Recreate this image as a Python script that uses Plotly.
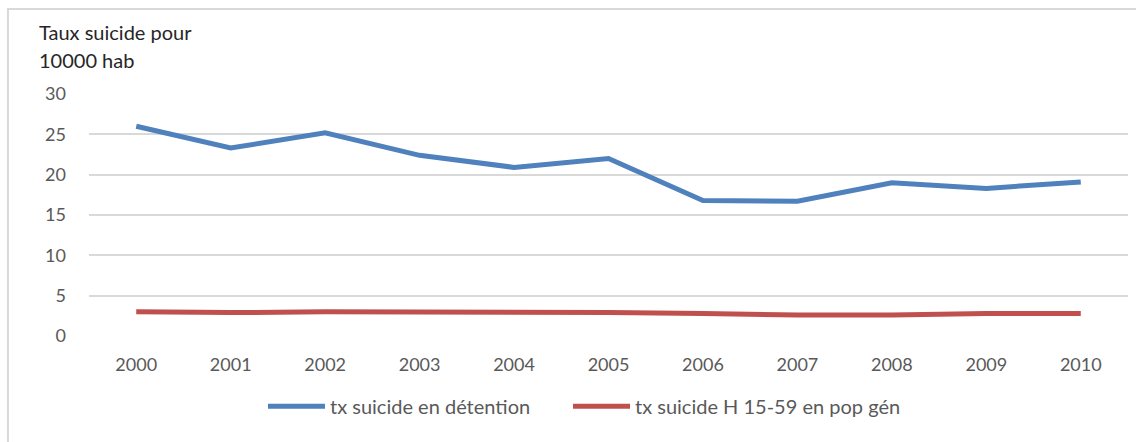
import plotly.graph_objects as go

years = ["2000", "2001", "2002", "2003", "2004", "2005", "2006", "2007", "2008", "2009", "2010"]
detention = [26.0, 23.3, 25.2, 22.4, 20.9, 22.0, 16.8, 16.7, 19.0, 18.3, 19.1]
pop_gen = [3.0, 2.9, 3.0, 3.0, 3.0, 2.9, 2.8, 2.6, 2.6, 2.8, 2.8]

name_det = "tx suicide en détention"
name_pop = "tx suicide H 15-59 en pop gén"

FONT = "Lato, 'Open Sans', sans-serif"

fig = go.Figure()
fig.add_trace(go.Scatter(x=years, y=detention, mode="lines", name=name_det,
                         line=dict(color="#4f81bd", width=5), legend="legend"))
fig.add_trace(go.Scatter(x=years, y=pop_gen, mode="lines", name=name_pop,
                         line=dict(color="#c0504d", width=5), legend="legend2"))

leg_common = dict(orientation="h", xanchor="left", y=-0.29, yanchor="middle",
                  font=dict(size=20, color="#595959"), itemwidth=57,
                  itemsizing="constant", bgcolor="rgba(0,0,0,0)")

fig.update_layout(
    width=1136, height=442,
    margin=dict(l=89, r=8, t=94, b=106),
    paper_bgcolor="white", plot_bgcolor="white",
    font=dict(family=FONT, size=18, color="#595959"),
    showlegend=True,
    legend=dict(x=(263 - 89) / 1039, **leg_common),
    legend2=dict(x=(568 - 89) / 1039, **leg_common),
    xaxis=dict(type="category", range=[-0.5, 10.5], showgrid=False, zeroline=False,
               showline=False, ticks="", ticklabelstandoff=16,
               tickfont=dict(size=18, color="#595959")),
    yaxis=dict(range=[0, 30], tickvals=[0, 5, 10, 15, 20, 25, 30], showgrid=True,
               gridcolor="#d9d9d9", gridwidth=1.5, zeroline=False, showline=False,
               ticks="", ticklabelstandoff=22, tickfont=dict(size=18, color="#595959")),
    shapes=[dict(type="rect", xref="paper", yref="paper", x0=-0.078, x1=1.2,
                 y0=-0.6, y1=1.351, line=dict(color="#d9d9d9", width=2),
                 fillcolor="rgba(0,0,0,0)", layer="below")],
    annotations=[
        dict(text="Taux suicide pour", xref="paper", yref="paper",
             x=-0.050, y=(336 - 32.5) / 242, xanchor="left", yanchor="middle",
             showarrow=False, font=dict(size=20, color="#262626", family=FONT)),
        dict(text="10000 hab", xref="paper", yref="paper",
             x=-0.050, y=(336 - 60) / 242, xanchor="left", yanchor="middle",
             showarrow=False, font=dict(size=20, color="#262626", family=FONT)),
    ],
)

fig.write_html("out.html")
